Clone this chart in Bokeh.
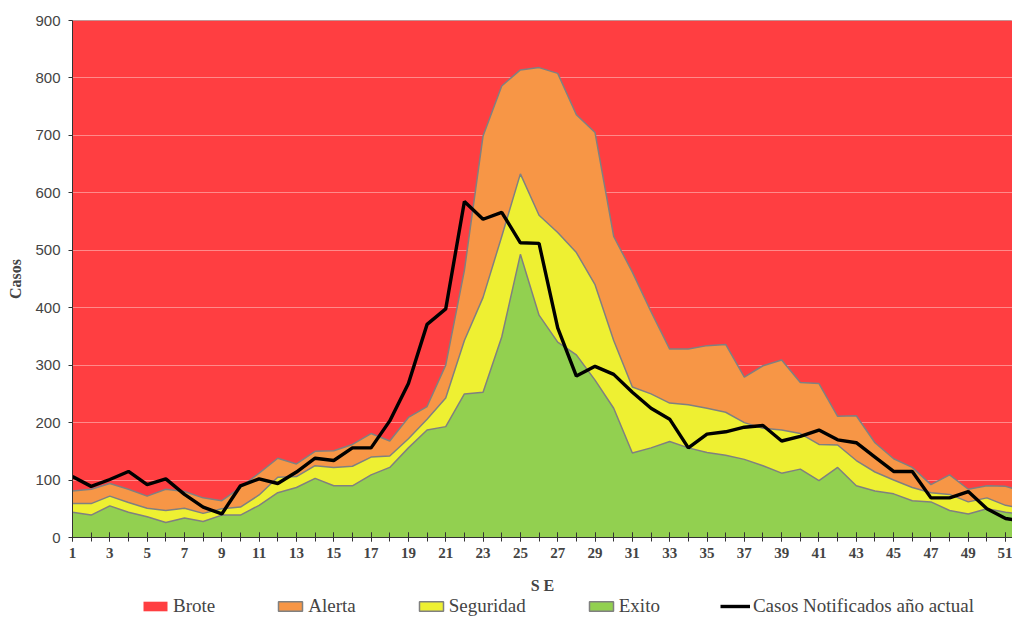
from bokeh.plotting import figure
from bokeh.layouts import column
from bokeh.models import Range1d, FixedTicker, Legend, LegendItem, ColumnDataSource
from bokeh.embed import file_html
from bokeh.resources import INLINE

weeks = list(range(1, 53))
brote = [900, 900, 900, 900, 900, 900, 900, 900, 900, 900, 900, 900, 900,
         900, 900, 900, 900, 900, 900, 900, 900, 900, 900, 900, 900, 900,
         900, 900, 900, 900, 900, 900, 900, 900, 900, 900, 900, 900, 900,
         900, 900, 900, 900, 900, 900, 900, 900, 900, 900, 900, 900, 900]
alerta = [81, 84, 94, 84, 72, 84, 80, 69, 64, 87, 112, 138, 128, 150, 151, 162,
          181, 168, 209, 228, 300, 465, 699, 786, 814, 818, 808, 736, 705, 524,
          462, 393, 328, 328, 334, 336, 279, 299, 309, 270, 268, 211, 212, 165,
          137, 122, 92, 109, 84, 90, 89, 80]
seguridad = [59, 59, 72, 61, 51, 47, 51, 42, 50, 53, 74, 105, 106, 125, 122, 124,
             140, 142, 172, 206, 243, 343, 418, 524, 633, 561, 531, 496, 440, 343,
             262, 250, 234, 231, 225, 218, 200, 190, 187, 181, 162, 161, 134, 114,
             100, 87, 78, 75, 62, 69, 56, 50]
exito = [44, 39, 55, 44, 36, 26, 34, 28, 39, 39, 56, 78, 87, 103, 90, 90,
         109, 122, 156, 187, 193, 250, 253, 349, 493, 387, 340, 318, 274, 225,
         147, 156, 167, 156, 148, 143, 136, 125, 112, 119, 99, 122, 90, 81,
         76, 64, 62, 47, 41, 50, 44, 40]
casos = [106, 89, 101, 115, 92, 102, 75, 53, 41, 90, 102, 94, 114, 138, 134, 156,
         156, 203, 268, 371, 398, 585, 554, 566, 513, 512, 365, 281, 298, 284,
         253, 225, 206, 156, 180, 184, 192, 195, 168, 176, 187, 170, 165, 140,
         115, 115, 69, 69, 80, 50, 33, 28]

x_major = list(range(1, 53, 2))
y_ticks = [0, 100, 200, 300, 400, 500, 600, 700, 800, 900]
legend_labels = ["Brote", "Alerta", "Seguridad", "Exito", "Casos Notificados año actual"]

RED = "#FF3E41"
ORANGE = "#F79646"
YELLOW = "#EEF032"
GREEN = "#92D050"
EDGE = "#808080"
SERIF = "Liberation Serif"

src = ColumnDataSource(dict(w=weeks, brote=brote, alerta=alerta,
                            seguridad=seguridad, exito=exito, casos=casos))

p = figure(width=1012, height=596, output_backend="svg", toolbar_location=None,
           x_range=Range1d(1, 51.37), y_range=Range1d(0, 900),
           min_border_left=72, min_border_right=0, min_border_top=20,
           min_border_bottom=0)
p.background_fill_color = "white"
p.border_fill_color = "white"
p.outline_line_color = "#b0b0b0"

p.varea(x="w", y1=0, y2="brote", source=src, fill_color=RED, level="image")
p.varea(x="w", y1=0, y2="alerta", source=src, fill_color=ORANGE)
p.line(x="w", y="alerta", source=src, line_color=EDGE, line_width=1.5)
p.varea(x="w", y1=0, y2="seguridad", source=src, fill_color=YELLOW)
p.line(x="w", y="seguridad", source=src, line_color=EDGE, line_width=1.5)
p.varea(x="w", y1=0, y2="exito", source=src, fill_color=GREEN)
p.line(x="w", y="exito", source=src, line_color=EDGE, line_width=1.5)
p.line(x="w", y="casos", source=src, line_color="black", line_width=3.4)

# grids
p.xgrid.visible = False
p.ygrid.ticker = FixedTicker(ticks=y_ticks)
p.ygrid.grid_line_color = "#ff8a8a"
p.ygrid.grid_line_width = 1
p.ygrid.level = "underlay"

# x axis
p.xaxis.ticker = FixedTicker(ticks=x_major, minor_ticks=weeks)
p.xaxis.axis_label = "S E"
p.xaxis.axis_label_text_font = SERIF
p.xaxis.axis_label_text_font_style = "bold"
p.xaxis.axis_label_text_font_size = "16px"
p.xaxis.axis_label_standoff = 16
p.xaxis.major_label_text_font = SERIF
p.xaxis.major_label_text_font_style = "bold"
p.xaxis.major_label_text_font_size = "15px"
p.xaxis.major_label_standoff = 6
p.xaxis.major_tick_in = 5
p.xaxis.major_tick_out = 4
p.xaxis.minor_tick_in = 5
p.xaxis.minor_tick_out = 4
p.xaxis.axis_line_color = "#333333"
p.xaxis.major_tick_line_color = "#333333"
p.xaxis.minor_tick_line_color = "#333333"
p.xaxis.axis_line_width = 1.2

# y axis
p.yaxis.ticker = FixedTicker(ticks=y_ticks)
p.yaxis.axis_label = "Casos"
p.yaxis.axis_label_text_font = SERIF
p.yaxis.axis_label_text_font_style = "bold"
p.yaxis.axis_label_text_font_size = "16px"
p.yaxis.axis_label_standoff = 8
p.yaxis.major_label_text_font = "Liberation Sans"
p.yaxis.major_label_text_font_size = "15px"
p.yaxis.major_label_standoff = 8
p.yaxis.major_tick_in = 0
p.yaxis.major_tick_out = 4
p.yaxis.minor_tick_line_color = None
p.yaxis.axis_line_color = "#333333"
p.yaxis.major_tick_line_color = "#333333"

# legend strip below the chart
lf = figure(width=1012, height=21, output_backend="svg", toolbar_location=None,
            x_range=Range1d(0, 1), y_range=Range1d(0, 1),
            x_axis_type=None, y_axis_type=None,
            min_border_left=0, min_border_right=0, min_border_top=0,
            min_border_bottom=0)
lf.grid.visible = False
lf.outline_line_color = None
lf.background_fill_color = "white"
lf.border_fill_color = "white"

nan = float("nan")
swatch = ColumnDataSource(dict(l=[nan], r=[nan], b=[nan], t=[nan]))
line_sw = ColumnDataSource(dict(x=[nan], y=[nan]))
lg_brote = lf.quad(left="l", right="r", bottom="b", top="t", source=swatch,
                   fill_color=RED, line_color=None)
lg_alerta = lf.quad(left="l", right="r", bottom="b", top="t", source=swatch,
                    fill_color=ORANGE, line_color=EDGE, line_width=1.5)
lg_seg = lf.quad(left="l", right="r", bottom="b", top="t", source=swatch,
                 fill_color=YELLOW, line_color=EDGE, line_width=1.5)
lg_exito = lf.quad(left="l", right="r", bottom="b", top="t", source=swatch,
                   fill_color=GREEN, line_color=EDGE, line_width=1.5)
lg_casos = lf.line(x="x", y="y", source=line_sw, line_color="black", line_width=3.4)

legend = Legend(items=[
    LegendItem(label=legend_labels[0], renderers=[lg_brote]),
    LegendItem(label=legend_labels[1], renderers=[lg_alerta]),
    LegendItem(label=legend_labels[2], renderers=[lg_seg]),
    LegendItem(label=legend_labels[3], renderers=[lg_exito]),
    LegendItem(label=legend_labels[4], renderers=[lg_casos]),
], orientation="horizontal", location=(68, 0))
legend.label_text_font = SERIF
legend.label_text_font_size = "19px"
legend.label_standoff = 3
legend.glyph_width = 30
legend.glyph_height = 12
legend.spacing = 60
legend.padding = 0
legend.margin = 0
legend.border_line_color = None
legend.background_fill_alpha = 0
lf.add_layout(legend, "center")

layout = column(p, lf, spacing=0)
open("out.html", "w").write(file_html(layout, INLINE))
